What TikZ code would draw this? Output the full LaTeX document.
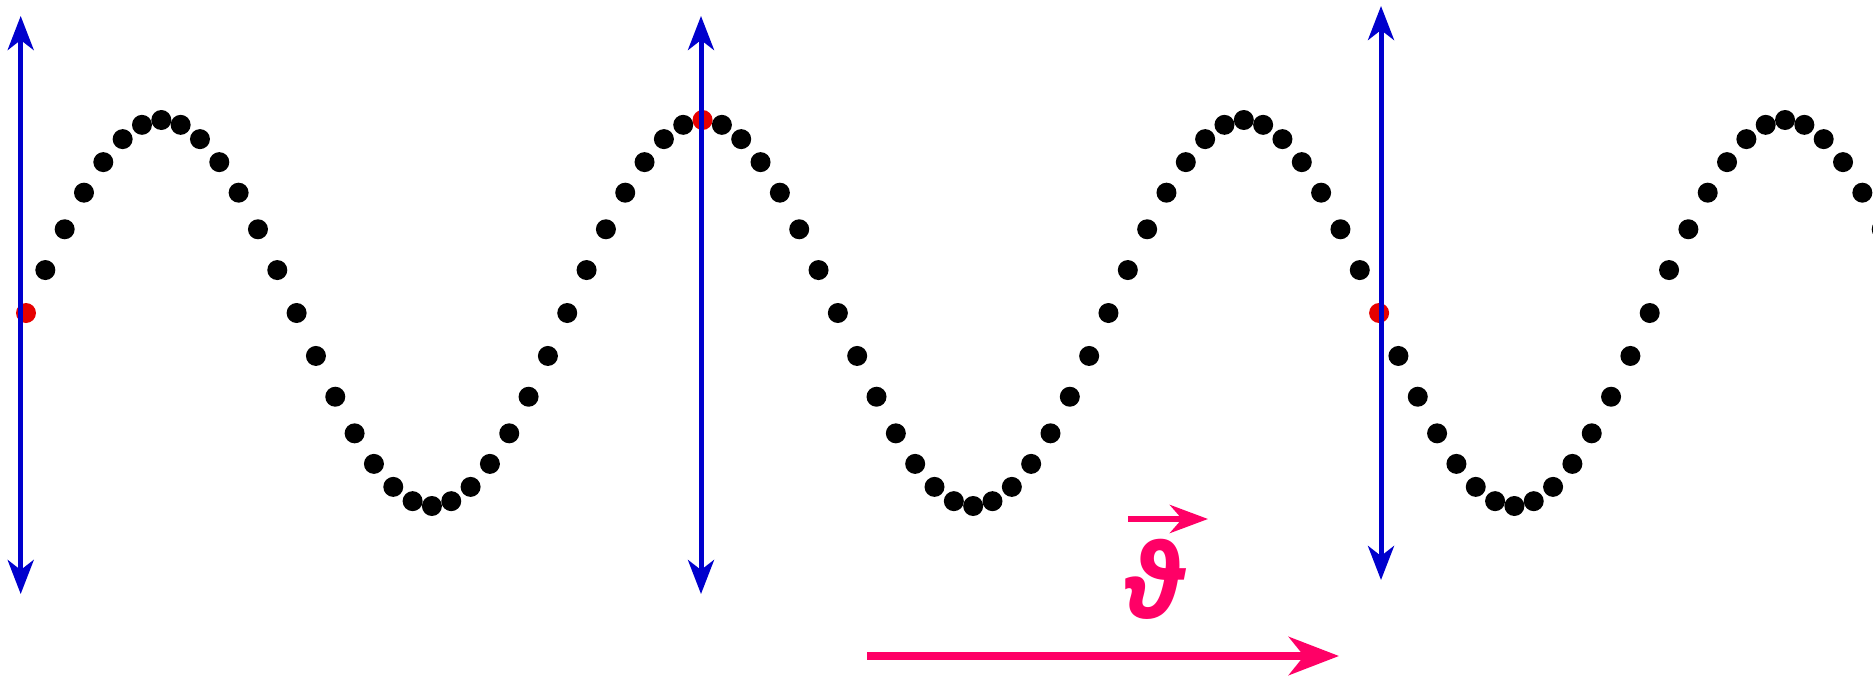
\documentclass[tikz,border=0pt]{standalone}
\usepackage{fontspec}
\newfontfamily\symfont{Open Sans}
\usetikzlibrary{arrows.meta}
\definecolor{mBlue}{RGB}{0,0,205}
\definecolor{mPink}{RGB}{255,0,102}
\definecolor{mRed}{RGB}{230,0,0}

\begin{document}
\begin{tikzpicture}[x=1pt, y=-1pt,
  dot/.style={circle, fill=#1, minimum size=20pt, inner sep=0pt},
  ax/.style={{Stealth[length=34pt,width=26pt,inset=10pt]}-{Stealth[length=34pt,width=26pt,inset=10pt]}, line width=5pt, mBlue},
  dir/.style={-{Stealth[length=50pt,width=38pt,inset=15pt]}, line width=8pt, mPink},
  vec/.style={-{Stealth[length=38pt,width=28pt,inset=12pt]}, line width=6pt, mPink}]
\useasboundingbox (0,0) rectangle (1873,677);
\clip (0,0) rectangle (1873,677);
% sampled wave, every 35th sample in red
\foreach \k in {0,...,96}{
  \pgfmathtruncatemacro\m{mod(\k,35)}
  \ifnum\m=0 \def\c{mRed}\else\def\c{black}\fi
  \node[dot=\c] (d\k) at ({26+19.33*\k},{313-193*sin(\k*12.857143)}) {};}
\coordinate (t1) at (20.7,16); \coordinate (b1) at (20.7,594);
\coordinate (t2) at (701,16);  \coordinate (b2) at (701,594);
\coordinate (t3) at (1381,6);  \coordinate (b3) at (1381,580);
\foreach \i in {1,2,3} \draw[ax] (t\i) -- (b\i);
\node[text=mPink, inner sep=0pt, xscale=0.9, font=\symfont\bfseries\itshape\fontsize{103}{103}\selectfont] (th) at (1153,579) {ϑ};
\coordinate (v1) at (1128,519); \coordinate (v2) at (1208,519);
\draw[vec] (v1) -- (v2);
\coordinate (s) at (867,656); \coordinate (e) at (1339,656);
\draw[dir] (s) -- (e);
\end{tikzpicture}
\end{document}
